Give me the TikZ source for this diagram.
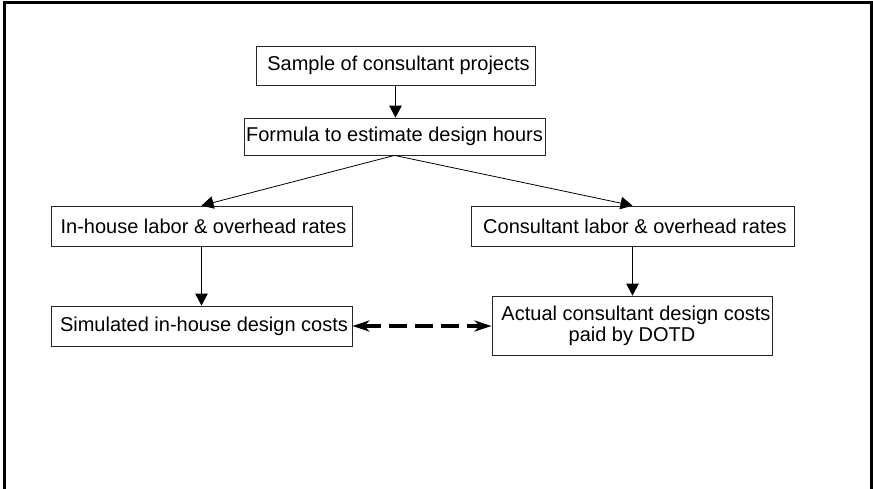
\documentclass[tikz,border=0pt]{standalone}
\usepackage{fontspec}
\setmainfont{Liberation Sans}
\usetikzlibrary{arrows.meta}
\begin{document}
\begin{tikzpicture}[x=1pt,y=-1pt,
  box/.style={draw=black!85, line width=0.8pt, inner sep=0pt, align=center,
    font=\fontsize{20}{21}\selectfont},
  flow/.style={draw=black, line width=0.8pt, -{Triangle[length=12pt,width=12.5pt]}},
  compare/.style={draw=black, line width=3.2pt, dash pattern=on 18pt off 8pt,
    {Stealth[length=17pt,width=11pt,inset=5pt]}-{Stealth[length=17pt,width=11pt,inset=5pt]}}]
\useasboundingbox (0,0) rectangle (873,488);
\draw[line width=3pt] (4,489) -- (4,2) -- (871.5,2) -- (871.5,489);
\node[box, minimum width=279pt, minimum height=39pt] (b1) at (395.5,65.5) {\hspace*{6pt}Sample of consultant projects};
\node[box, minimum width=301pt, minimum height=37pt] (b2) at (394.5,136.5) {Formula to estimate design hours};
\node[box, minimum width=301pt, minimum height=40pt] (b3) at (201.5,226) {\hspace*{4pt}In-house labor \& overhead rates};
\node[box, minimum width=323pt, minimum height=40pt] (b4) at (632.5,226) {\hspace*{5pt}Consultant labor \& overhead rates};
\node[box, minimum width=301pt, minimum height=40pt] (b5) at (201.5,326) {\hspace*{5pt}Simulated in-house design costs};
\node[box, minimum width=280pt, minimum height=59pt] (b6) at (632,325.5) {\hspace*{8pt}Actual consultant design costs\\paid by DOTD};
\draw[flow] (b1.south) -- (b1.south |- b2.north);
\draw[flow] (b2.south) -- (b3.north);
\draw[flow] (b2.south) -- (b4.north);
\draw[flow] (b3.south) -- (b5.north);
\draw[flow] (b4.south) -- (b4.south |- b6.north);
\draw[compare] (b5.east) -- (b5.east -| b6.west);
\end{tikzpicture}
\end{document}
